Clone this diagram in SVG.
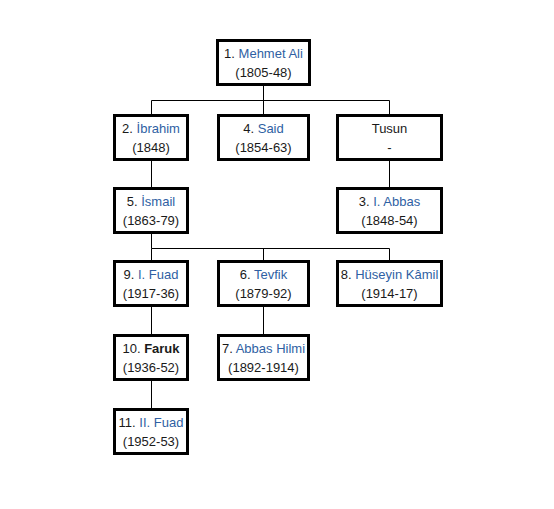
<svg xmlns="http://www.w3.org/2000/svg" width="554" height="509" viewBox="0 0 554 509">
<style>
  .box { fill: #ffffff; stroke: #000000; stroke-width: 3; }
  .conn { stroke: #000000; stroke-width: 1; fill: none; }
  text { font-family: "Liberation Sans", Arial, sans-serif; font-size: 13px; fill: #1a1a1a; text-anchor: middle; }
  .lnk { fill: #2f5fa3; }
  .b { font-weight: bold; }
</style>
<rect width="554" height="509" fill="#ffffff"/>
<g id="connectors">
  <path class="conn" d="M263.5,86 V100.5 M151.5,100.5 H389.5 M151.5,100.5 V114 M263.5,100.5 V114 M389.5,100.5 V114"/>
  <path class="conn" d="M151.5,161 V187 M389.5,161 V187"/>
  <path class="conn" d="M151.5,234 V248.5 M151.5,248.5 H389.5 M151.5,248.5 V260 M263.5,248.5 V260 M389.5,248.5 V260"/>
  <path class="conn" d="M151.5,307 V334 M263.5,307 V334 M151.5,381 V408"/>
</g>
<g id="n1">
  <rect class="box" x="217.5" y="40.5" width="92" height="44"/>
  <text x="263.5" y="58">1. <tspan class="lnk">Mehmet Ali</tspan></text>
  <text x="263.5" y="77">(1805-48)</text>
</g>
<g id="n2">
  <rect class="box" x="114.5" y="115.5" width="73" height="44"/>
  <text x="151" y="133">2. <tspan class="lnk">İbrahim</tspan></text>
  <text x="151" y="152">(1848)</text>
</g>
<g id="n4">
  <rect class="box" x="218.5" y="115.5" width="90" height="44"/>
  <text x="263.5" y="133">4. <tspan class="lnk">Said</tspan></text>
  <text x="263.5" y="152">(1854-63)</text>
</g>
<g id="tusun">
  <rect class="box" x="337.5" y="115.5" width="104" height="44"/>
  <text x="389.5" y="133">Tusun</text>
  <text x="389.5" y="152">-</text>
</g>
<g id="n5">
  <rect class="box" x="114.5" y="188.5" width="73" height="44"/>
  <text x="151" y="206">5. <tspan class="lnk">İsmail</tspan></text>
  <text x="151" y="225">(1863-79)</text>
</g>
<g id="n3">
  <rect class="box" x="337.5" y="188.5" width="104" height="44"/>
  <text x="389.5" y="206">3. <tspan class="lnk">I. Abbas</tspan></text>
  <text x="389.5" y="225">(1848-54)</text>
</g>
<g id="n9">
  <rect class="box" x="114.5" y="261.5" width="73" height="44"/>
  <text x="151" y="279">9. <tspan class="lnk">I. Fuad</tspan></text>
  <text x="151" y="298">(1917-36)</text>
</g>
<g id="n6">
  <rect class="box" x="218.5" y="261.5" width="90" height="44"/>
  <text x="263.5" y="279">6. <tspan class="lnk">Tevfik</tspan></text>
  <text x="263.5" y="298">(1879-92)</text>
</g>
<g id="n8">
  <rect class="box" x="337.5" y="261.5" width="104" height="44"/>
  <text x="389.5" y="279">8. <tspan class="lnk">Hüseyin Kâmil</tspan></text>
  <text x="389.5" y="298">(1914-17)</text>
</g>
<g id="n10">
  <rect class="box" x="114.5" y="335.5" width="73" height="44"/>
  <text x="151" y="353">10. <tspan class="b">Faruk</tspan></text>
  <text x="151" y="372">(1936-52)</text>
</g>
<g id="n7">
  <rect class="box" x="218.5" y="335.5" width="90" height="44"/>
  <text x="263.5" y="353">7. <tspan class="lnk">Abbas Hilmi</tspan></text>
  <text x="263.5" y="372">(1892-1914)</text>
</g>
<g id="n11">
  <rect class="box" x="114.5" y="409.5" width="73" height="44"/>
  <text x="151" y="427">11. <tspan class="lnk">II. Fuad</tspan></text>
  <text x="151" y="446">(1952-53)</text>
</g>
</svg>
